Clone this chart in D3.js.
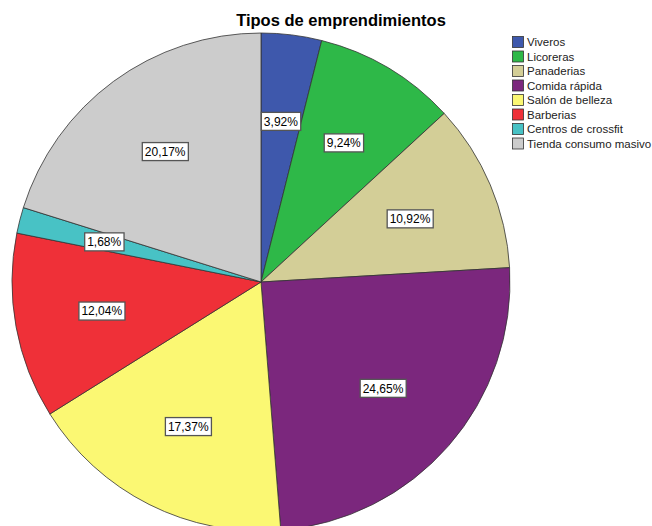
<!DOCTYPE html>
<html><head><meta charset="utf-8">
<script src="https://cdn.jsdelivr.net/npm/d3@7"></script>
<style>body{margin:0;background:#fff}svg{display:block}text{font-family:"Liberation Sans",Arial,sans-serif}</style>
</head><body><svg id="c" width="652" height="526"></svg>
<script>
const categories = ["Viveros","Licoreras","Panaderias","Comida rápida","Salón de belleza","Barberias","Centros de crossfit","Tienda consumo masivo"];
const values = [3.92, 9.24, 10.92, 24.65, 17.37, 12.04, 1.68, 20.17];
const colors = ["#3E58AC","#2EB848","#D3CE97","#7B277D","#FBF873","#EF3038","#48C2C5","#CCCCCC"];
const title = "Tipos de emprendimientos";

const svg = d3.select("#c");
const cx = 261, cy = 282, R = 249;

svg.append("text").attr("x", 341).attr("y", 26).attr("text-anchor","middle")
  .style("font-size","16.5px").style("font-weight","bold").attr("fill","#000").text(title);

const pie = d3.pie().sort(null).value(d => d)(values);
const arc = d3.arc().innerRadius(0).outerRadius(R);
const labelArc = d3.arc().innerRadius(R*0.65).outerRadius(R*0.65);
const g = svg.append("g").attr("transform", `translate(${cx},${cy})`);
g.selectAll("path").data(pie).join("path")
  .attr("d", arc).attr("fill", (d,i) => colors[i])
  .attr("stroke", "#333").attr("stroke-width", 0.8).attr("stroke-linejoin","round");

const fmt = v => v.toFixed(2).replace(".", ",") + "%";
const lg = g.selectAll("g.lab").data(pie).join("g").attr("class","lab")
  .attr("transform", d => `translate(${labelArc.centroid(d)})`);
lg.each(function(d){
  const s = d3.select(this);
  const t = s.append("text").attr("text-anchor","middle").attr("dy","0.36em")
    .style("font-size","12px").attr("fill","#000").text(fmt(d.data));
  const bb = t.node().getBBox();
  s.insert("rect","text").attr("x", bb.x-2.5).attr("y", -9).attr("width", bb.width+5).attr("height", 18)
    .attr("fill","#fff").attr("stroke","#555").attr("stroke-width",1.3);
});

const leg = svg.append("g").attr("transform","translate(512,36)");
const ly = d3.scaleBand().domain(categories).range([0, 8*14.5]);
categories.forEach((c,i) => {
  const row = leg.append("g").attr("transform", `translate(0,${ly(c)})`);
  row.append("rect").attr("x",0.5).attr("y",0.5).attr("width",11).attr("height",11)
    .attr("fill", colors[i]).attr("stroke","#333").attr("stroke-width",0.8);
  row.append("text").attr("x",15).attr("y",10).style("font-size","11.5px").attr("fill","#222").text(c);
});
</script></body></html>
